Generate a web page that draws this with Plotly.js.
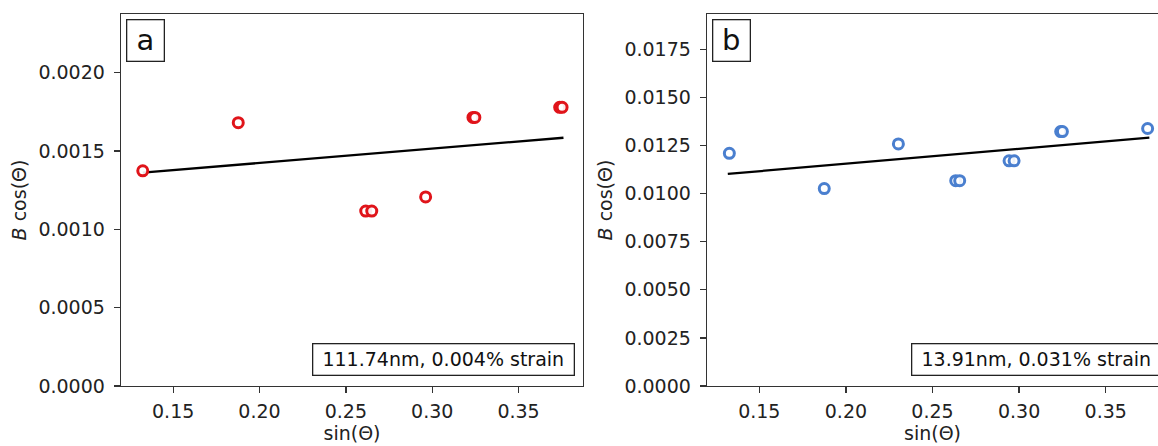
<!DOCTYPE html>
<html>
<head>
<meta charset="utf-8">
<script src="https://cdn.plot.ly/plotly-3.0.1.min.js"></script>
<style>html,body{margin:0;padding:0;background:#fff;}#chart{width:1158px;height:446px;}</style>
</head>
<body>
<div id="chart"></div>
<script>
// Panel a data (sin(Θ), B cos(Θ))
const sinThetaA = [0.1324, 0.1877, 0.2615, 0.2650, 0.2962, 0.3236, 0.3247, 0.3738, 0.3752];
const bcosA     = [0.001374, 0.001681, 0.001117, 0.001117, 0.001207, 0.001715, 0.001715, 0.001779, 0.001779];
const fitXA = [0.1324, 0.3760];
const fitYA = [0.001362, 0.001585];

// Panel b data
const sinThetaB = [0.1327, 0.1875, 0.2303, 0.2634, 0.2657, 0.2942, 0.2971, 0.3240, 0.3250, 0.3742];
const bcosB     = [0.01209, 0.01026, 0.01258, 0.01067, 0.01067, 0.01170, 0.01170, 0.01322, 0.01322, 0.01338];
const fitXB = [0.1318, 0.3752];
const fitYB = [0.01102, 0.01291];

const panelLabels = ["a", "b"];
const strainLabels = ["111.74nm, 0.004% strain", "13.91nm, 0.031% strain"];
const xTitle = "sin(Θ)";
const yTitle = "<i>B</i> cos(Θ)";

const FONT = "DejaVu Sans, Liberation Sans, sans-serif";
const W = 1158, H = 446;
const TOP = 14, BOT = 386;
const AX = "#333333";

const traces = [
  {x: fitXA, y: fitYA, xaxis: "x", yaxis: "y", mode: "lines", line: {color: "#000", width: 2.3}, hoverinfo: "skip"},
  {x: sinThetaA, y: bcosA, xaxis: "x", yaxis: "y", mode: "markers", cliponaxis: false,
   marker: {symbol: "circle", size: 10, color: "rgba(255,255,255,0.9)", line: {color: "#e0141a", width: 3}}},
  {x: fitXB, y: fitYB, xaxis: "x2", yaxis: "y2", mode: "lines", line: {color: "#000", width: 2.3}, hoverinfo: "skip"},
  {x: sinThetaB, y: bcosB, xaxis: "x2", yaxis: "y2", mode: "markers", cliponaxis: false,
   marker: {symbol: "circle", size: 10, color: "rgba(255,255,255,0.9)", line: {color: "#4a7fcf", width: 3}}}
];

const pxPerUnitA = 1727, pxPerUnitB = 1732;
const xLeft = 0.1198;
const aL = 121, aR = 583, bL = 707;
const py = p => (BOT - p) / (BOT - TOP);

function xaxis(domain, range) {
  return {
    domain: domain, range: range, autorange: false,
    tickmode: "linear", tick0: 0.15, dtick: 0.05, tickformat: ".2f",
    ticks: "outside", ticklen: 6, tickwidth: 1.3, tickcolor: AX,
    showline: true, linecolor: AX, linewidth: 1.3, mirror: true,
    showgrid: false, zeroline: false, ticklabelstandoff: 2,
    tickfont: {family: FONT, size: 19, color: "#222"},
    title: {text: xTitle, font: {family: FONT, size: 19, color: "#222"}, standoff: 2},
    automargin: false, fixedrange: true
  };
}
function yaxis(range, dtick, mirror, anchor) {
  return {
    domain: [0, 1], range: range, autorange: false, anchor: anchor,
    tickmode: "linear", tick0: 0, dtick: dtick, tickformat: ".4f",
    ticks: "outside", ticklen: 6, tickwidth: 1.3, tickcolor: AX,
    showline: true, linecolor: AX, linewidth: 1.3, mirror: mirror,
    showgrid: false, zeroline: false, ticklabelstandoff: 5,
    tickfont: {family: FONT, size: 19, color: "#222"},
    title: {text: yTitle, font: {family: FONT, size: 19, color: "#222"}, standoff: 6},
    automargin: false, fixedrange: true
  };
}

const layout = {
  width: W, height: H,
  margin: {l: 0, r: 0, t: TOP, b: H - BOT, pad: 0},
  paper_bgcolor: "#fff", plot_bgcolor: "#fff",
  showlegend: false,
  xaxis: Object.assign(xaxis([aL / W, aR / W], [xLeft, xLeft + (aR - aL) / pxPerUnitA]), {anchor: "y"}),
  yaxis: yaxis([0, 0.002375], 0.0005, true, "x"),
  xaxis2: Object.assign(xaxis([bL / W, 1], [xLeft, xLeft + (W - bL) / pxPerUnitB]), {anchor: "y2"}),
  yaxis2: yaxis([0, 0.01933], 0.0025, false, "x2"),
  annotations: [
    {text: panelLabels[0], xref: "paper", yref: "paper", x: 126 / W, y: py(19), xanchor: "left", yanchor: "top",
     showarrow: false, font: {family: FONT, size: 29, color: "#111"}, bordercolor: "#222", borderwidth: 1.3, borderpad: 3, bgcolor: "#fff", width: 30},
    {text: panelLabels[1], xref: "paper", yref: "paper", x: 712 / W, y: py(19), xanchor: "left", yanchor: "top",
     showarrow: false, font: {family: FONT, size: 29, color: "#111"}, bordercolor: "#222", borderwidth: 1.3, borderpad: 3, bgcolor: "#fff", width: 30},
    {text: strainLabels[0], xref: "paper", yref: "paper", x: 575 / W, y: py(376), xanchor: "right", yanchor: "bottom",
     showarrow: false, font: {family: FONT, size: 19, color: "#111"}, bordercolor: "#222", borderwidth: 1.3, borderpad: 4, bgcolor: "#fff", width: 252},
    {text: strainLabels[1], xref: "paper", yref: "paper", x: 911 / W, y: py(376), xanchor: "left", yanchor: "bottom",
     showarrow: false, font: {family: FONT, size: 19, color: "#111"}, bordercolor: "#222", borderwidth: 1.3, borderpad: 4, bgcolor: "#fff", width: 240}
  ]
};

Plotly.newPlot("chart", traces, layout, {displayModeBar: false, staticPlot: true});
</script>
</body>
</html>
